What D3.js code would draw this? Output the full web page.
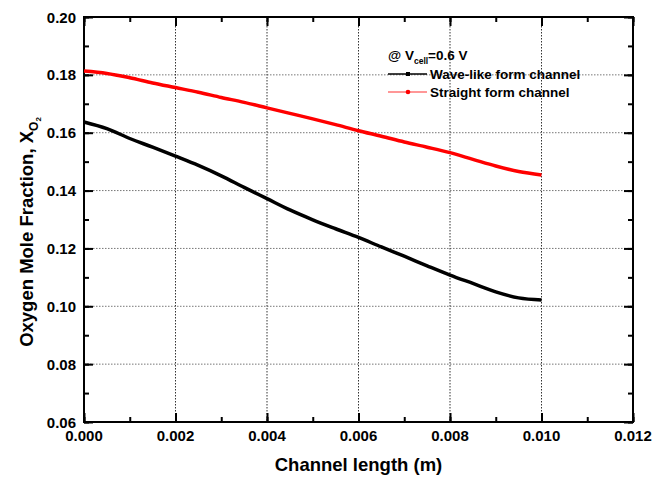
<!DOCTYPE html>
<html>
<head>
<meta charset="utf-8">
<script src="https://cdn.jsdelivr.net/npm/d3@7"></script>
<style>
  body { margin: 0; background: #fff; }
  svg { font-family: "Liberation Sans", Arial, sans-serif; font-weight: bold; }
</style>
</head>
<body>
<svg id="chart" width="655" height="482"></svg>
<script>
// channel length positions (m)
const lengths = [0, 0.0005, 0.001, 0.0015, 0.002, 0.0025, 0.003, 0.0035, 0.004, 0.0045, 0.005,
  0.0055, 0.006, 0.0065, 0.007, 0.0075, 0.008, 0.0085, 0.009, 0.0095, 0.010];

// oxygen mole fraction
const waveLike = [0.1637, 0.1614, 0.1580, 0.1550, 0.1519, 0.1487, 0.1451, 0.1411, 0.1372, 0.1333, 0.1299,
  0.1268, 0.1238, 0.1205, 0.1173, 0.1140, 0.1108, 0.1079, 0.1050, 0.1029, 0.1022];
const straight = [0.1813, 0.1805, 0.1790, 0.1772, 0.1756, 0.1740, 0.1722, 0.1705, 0.1686, 0.1667, 0.1648,
  0.1628, 0.1607, 0.1588, 0.1568, 0.1550, 0.1531, 0.1508, 0.1485, 0.1466, 0.1454];

const xTicks = [0, 0.002, 0.004, 0.006, 0.008, 0.010, 0.012];
const yTicks = [0.06, 0.08, 0.10, 0.12, 0.14, 0.16, 0.18, 0.20];

const plotLeft = 84, plotRight = 633, plotTop = 17, plotBottom = 422;

const svg = d3.select("#chart");

const x = d3.scaleLinear().domain([0, 0.012]).range([plotLeft, plotRight]);
const y = d3.scaleLinear().domain([0.06, 0.20]).range([plotBottom, plotTop]);

// grid (dotted)
svg.append("g")
  .selectAll("line")
  .data(yTicks.slice(1, -1))
  .join("line")
  .attr("x1", plotLeft).attr("x2", plotRight)
  .attr("y1", d => y(d)).attr("y2", d => y(d))
  .attr("stroke", "#777")
  .attr("stroke-width", 1)
  .attr("stroke-dasharray", "1.5,1.5");

svg.append("g")
  .selectAll("line")
  .data(xTicks.slice(1, -1))
  .join("line")
  .attr("x1", d => x(d)).attr("x2", d => x(d))
  .attr("y1", plotTop).attr("y2", plotBottom)
  .attr("stroke", "#333")
  .attr("stroke-width", 1)
  .attr("stroke-dasharray", "1.5,1.5");

// axes, ticks point inward
const minorX = d3.range(0, 0.0121, 0.001);
const minorY = d3.range(0.06, 0.2001, 0.01);

function axisTicks(axis, scale, major, minor, offset) {
  const g = svg.append("g").attr("transform", offset);
  g.call(axis(scale).tickValues(minor).tickSize(5).tickFormat(""));
  g.select(".domain").remove();
  const g3 = svg.append("g").attr("transform", offset);
  g3.call(axis(scale).tickValues(major).tickSize(9).tickFormat(""));
  g3.select(".domain").remove();
  svg.selectAll(".tick line").attr("stroke", "#000").attr("stroke-width", 2);
}
axisTicks(d3.axisTop, x, xTicks, minorX, `translate(0,${plotBottom})`);
axisTicks(d3.axisBottom, x, xTicks, minorX, `translate(0,${plotTop})`);
axisTicks(d3.axisRight, y, yTicks, minorY, `translate(${plotLeft},0)`);
axisTicks(d3.axisLeft, y, yTicks, minorY, `translate(${plotRight},0)`);

svg.append("rect")
  .attr("x", plotLeft).attr("y", plotTop)
  .attr("width", plotRight - plotLeft).attr("height", plotBottom - plotTop)
  .attr("fill", "none").attr("stroke", "#000").attr("stroke-width", 2);

// tick labels
svg.append("g")
  .selectAll("text")
  .data(xTicks)
  .join("text")
  .attr("x", d => x(d))
  .attr("y", plotBottom + 19)
  .attr("text-anchor", "middle")
  .attr("font-size", "15px")
  .text(d => d.toFixed(3));

svg.append("g")
  .selectAll("text")
  .data(yTicks)
  .join("text")
  .attr("x", plotLeft - 8)
  .attr("y", d => y(d) + 5.5)
  .attr("text-anchor", "end")
  .attr("font-size", "15px")
  .text(d => d.toFixed(2));

// axis titles
svg.append("text")
  .attr("x", (plotLeft + plotRight) / 2)
  .attr("y", 471)
  .attr("text-anchor", "middle")
  .attr("font-size", "18.5px")
  .text("Channel length (m)");

const yt = svg.append("text")
  .attr("transform", "translate(33,232) rotate(-90)")
  .attr("text-anchor", "middle")
  .attr("font-size", "18.5px");
yt.append("tspan").text("Oxygen Mole Fraction, X");
yt.append("tspan").attr("font-size", "12px").attr("dy", 5).text("O");
yt.append("tspan").attr("font-size", "8px").attr("dy", 3).text("2");

// curves
const line = d3.line()
  .x((d, i) => x(lengths[i]))
  .y(d => y(d))
  .curve(d3.curveCatmullRom);

svg.append("path")
  .datum(waveLike)
  .attr("d", line)
  .attr("fill", "none")
  .attr("stroke", "#000")
  .attr("stroke-width", 3.5);

svg.append("path")
  .datum(straight)
  .attr("d", line)
  .attr("fill", "none")
  .attr("stroke", "#ff0000")
  .attr("stroke-width", 3.5);

// legend
const lg = svg.append("g");
const lt = lg.append("text").attr("x", 388).attr("y", 60).attr("font-size", "13.5px");
lt.append("tspan").text("@ V");
lt.append("tspan").attr("font-size", "8.5px").attr("dy", 4).text("cell");
lt.append("tspan").attr("dy", -4).text("=0.6 V");

const legendItems = [
  { name: "Wave-like form channel", color: "#000", y: 74 },
  { name: "Straight form channel", color: "#ff3030", y: 92 }
];
legendItems.forEach((it, i) => {
  lg.append("line")
    .attr("x1", 388).attr("x2", 427)
    .attr("y1", it.y).attr("y2", it.y)
    .attr("stroke", it.color)
    .attr("stroke-width", i === 0 ? 1.5 : 1.2);
  if (i === 0) {
    lg.append("rect").attr("x", 406).attr("y", it.y - 2).attr("width", 4).attr("height", 4).attr("fill", "#000");
  } else {
    lg.append("circle").attr("cx", 408).attr("cy", it.y).attr("r", 2.3).attr("fill", "#ff0000");
  }
  lg.append("text")
    .attr("x", 430).attr("y", it.y + 4.5)
    .attr("font-size", "13.5px")
    .text(it.name);
});
</script>
</body>
</html>
